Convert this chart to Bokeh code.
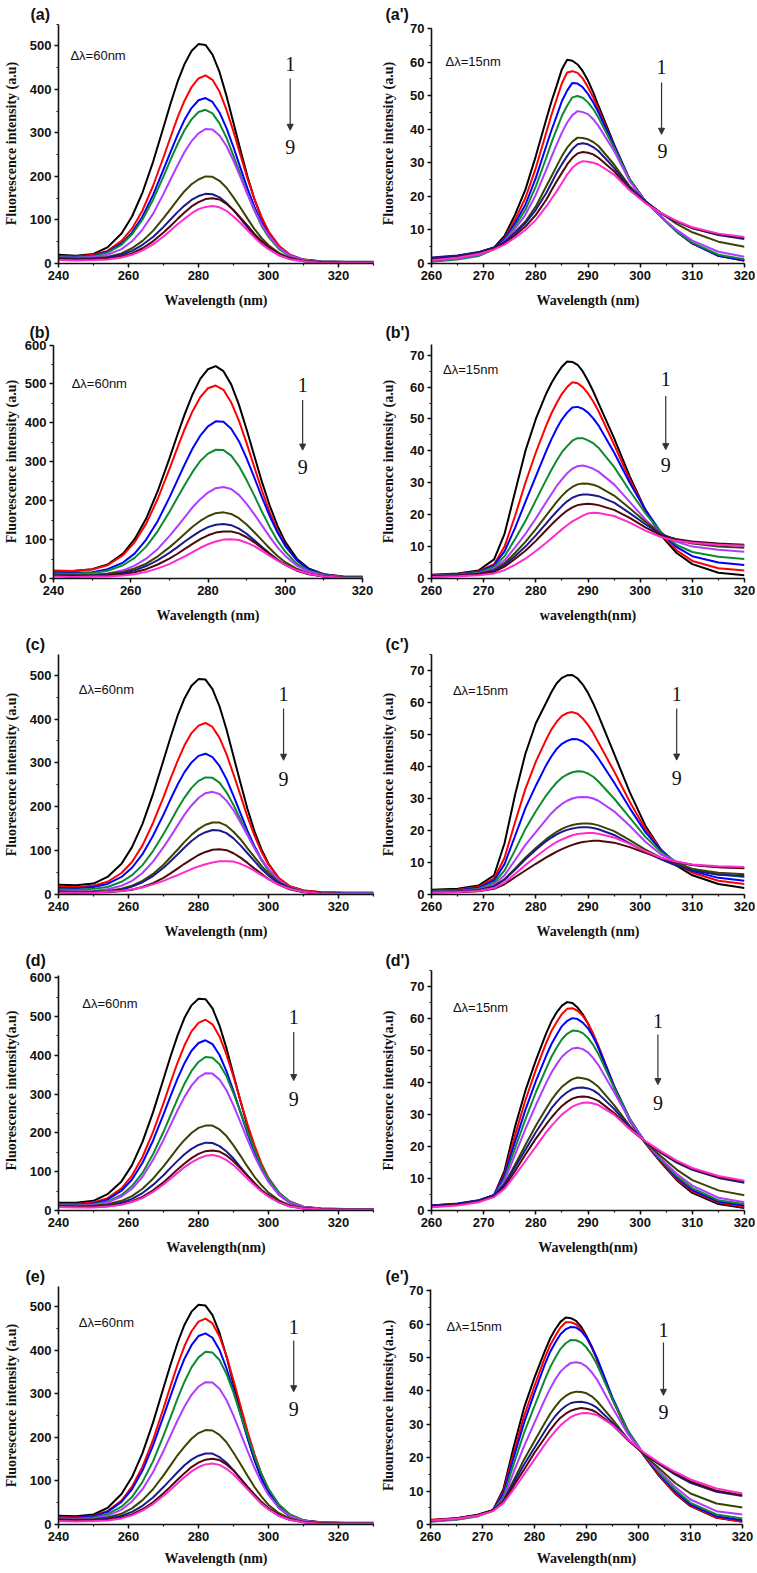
from bokeh.plotting import figure
from bokeh.layouts import column, row
from bokeh.models import Label, Arrow, NormalHead, SingleIntervalTicker, Range1d
from bokeh.embed import file_html
from bokeh.resources import INLINE

# ---------------- data ----------------
WL60 = [240, 245, 250, 254, 258, 261, 264, 267, 270, 272, 274, 276, 278, 280, 282, 284,
        286, 288, 290, 292, 294, 296, 298, 300, 303, 306, 310, 315, 322, 330]
WL15 = [260, 265, 269, 272, 274, 276, 278, 280, 282, 283, 284, 285, 286, 287, 288, 289,
        290, 291, 292, 295, 298, 301, 304, 307, 310, 315, 320]

SPEC_A = [
    [20, 18, 22, 37, 69, 108, 163, 233, 313, 367, 417, 458, 488, 504, 502, 480, 440, 385, 323, 260, 200, 147, 105, 71, 38, 19, 9, 5, 4, 4],
    [17, 16, 20, 29, 52, 80, 122, 178, 244, 290, 335, 374, 405, 425, 432, 422, 395, 353, 303, 249, 195, 148, 107, 74, 41, 21, 9, 4, 3, 3],
    [16, 15, 18, 27, 46, 71, 108, 157, 216, 256, 295, 330, 357, 375, 380, 371, 347, 311, 267, 219, 172, 130, 94, 65, 36, 19, 8, 4, 3, 3],
    [15, 14, 17, 25, 43, 67, 101, 146, 200, 238, 274, 306, 331, 348, 353, 345, 322, 289, 247, 204, 160, 121, 87, 61, 33, 17, 8, 4, 3, 3],
    [14, 13, 15, 20, 33, 51, 78, 114, 160, 193, 225, 256, 281, 299, 309, 308, 294, 270, 236, 198, 159, 123, 90, 65, 36, 19, 8, 4, 3, 3],
    [12, 11, 12, 15, 23, 35, 52, 75, 104, 125, 146, 166, 182, 193, 200, 199, 190, 174, 152, 128, 103, 79, 59, 42, 24, 13, 6, 3, 2, 2],
    [12, 11, 11, 14, 20, 29, 43, 61, 84, 101, 118, 133, 146, 155, 160, 159, 152, 139, 122, 103, 83, 64, 47, 34, 19, 11, 5, 3, 2, 2],
    [10, 9, 9, 11, 16, 23, 35, 51, 71, 86, 102, 117, 131, 141, 148, 150, 147, 137, 123, 105, 87, 68, 52, 38, 22, 12, 6, 3, 2, 2],
    [8, 7, 8, 9, 14, 20, 30, 44, 62, 76, 90, 103, 115, 125, 130, 132, 129, 121, 108, 93, 76, 60, 45, 33, 19, 10, 5, 2, 2, 2],
]
SPEC_B = [
    [20, 19, 24, 36, 64, 101, 154, 225, 308, 367, 423, 473, 513, 538, 546, 533, 499, 447, 383, 315, 247, 187, 135, 94, 51, 26, 11, 5, 4, 4],
    [20, 19, 23, 34, 60, 93, 141, 205, 281, 334, 385, 430, 466, 489, 496, 485, 453, 406, 348, 286, 225, 170, 123, 85, 47, 24, 10, 5, 4, 4],
    [15, 14, 16, 24, 41, 64, 100, 148, 208, 251, 294, 334, 367, 391, 404, 403, 385, 353, 309, 259, 208, 160, 118, 84, 47, 24, 10, 4, 3, 3],
    [13, 12, 14, 20, 34, 53, 82, 122, 171, 206, 241, 274, 302, 321, 331, 330, 316, 289, 253, 213, 171, 132, 97, 69, 38, 20, 9, 4, 3, 3],
    [10, 9, 10, 13, 21, 33, 51, 76, 109, 133, 158, 183, 204, 221, 232, 235, 230, 215, 192, 165, 136, 107, 80, 58, 33, 18, 8, 3, 2, 2],
    [10, 9, 9, 12, 17, 26, 38, 57, 80, 97, 115, 133, 148, 160, 168, 170, 166, 155, 139, 119, 98, 77, 58, 42, 25, 13, 6, 3, 2, 2],
    [8, 7, 8, 9, 14, 21, 32, 47, 66, 80, 95, 109, 122, 132, 138, 140, 137, 128, 115, 98, 81, 64, 48, 35, 20, 11, 5, 2, 2, 2],
    [7, 6, 6, 8, 11, 16, 24, 36, 51, 63, 76, 89, 101, 111, 118, 121, 121, 116, 106, 93, 78, 63, 48, 36, 21, 12, 5, 2, 1, 1],
    [5, 4, 5, 5, 8, 11, 17, 26, 37, 47, 57, 68, 79, 88, 95, 100, 101, 99, 92, 83, 71, 58, 46, 35, 21, 12, 5, 2, 1, 1],
]
SPEC_C = [
    [22, 21, 25, 40, 70, 108, 161, 229, 306, 358, 407, 447, 476, 491, 490, 468, 429, 376, 315, 254, 195, 144, 103, 70, 37, 19, 9, 5, 4, 4],
    [18, 17, 20, 29, 49, 74, 112, 163, 222, 264, 304, 340, 368, 385, 391, 382, 357, 320, 274, 226, 177, 134, 97, 68, 37, 19, 9, 5, 4, 4],
    [15, 14, 17, 24, 40, 61, 92, 134, 182, 217, 250, 279, 301, 316, 321, 313, 293, 263, 225, 185, 145, 110, 80, 55, 31, 16, 7, 4, 3, 3],
    [12, 11, 13, 17, 29, 44, 67, 99, 138, 166, 195, 221, 243, 259, 267, 266, 255, 233, 204, 171, 138, 106, 78, 56, 31, 16, 7, 3, 2, 2],
    [8, 7, 8, 12, 20, 31, 49, 75, 108, 132, 157, 182, 203, 220, 231, 234, 229, 214, 192, 164, 135, 106, 80, 58, 33, 17, 7, 3, 2, 2],
    [7, 6, 7, 8, 13, 20, 31, 47, 68, 85, 102, 120, 136, 149, 159, 164, 164, 157, 143, 126, 105, 85, 65, 48, 28, 16, 6, 3, 1, 1],
    [6, 5, 6, 7, 11, 18, 28, 42, 61, 76, 91, 107, 122, 134, 142, 147, 146, 140, 128, 112, 94, 76, 58, 43, 25, 14, 6, 2, 1, 1],
    [5, 4, 5, 5, 8, 11, 17, 26, 38, 48, 59, 70, 80, 90, 97, 102, 103, 101, 94, 84, 72, 59, 47, 35, 22, 12, 5, 2, 1, 1],
    [4, 4, 4, 6, 8, 12, 16, 23, 31, 38, 44, 51, 58, 64, 69, 73, 76, 76, 75, 70, 63, 54, 44, 35, 22, 13, 6, 2, 1, 1],
]
SPEC_D = [
    [20, 20, 25, 42, 75, 117, 177, 253, 339, 397, 451, 497, 529, 546, 545, 521, 477, 418, 350, 282, 217, 160, 114, 77, 41, 21, 9, 5, 4, 4],
    [17, 16, 21, 32, 57, 90, 138, 202, 277, 330, 381, 426, 462, 484, 492, 480, 449, 402, 345, 283, 222, 168, 121, 84, 46, 23, 10, 5, 3, 3],
    [15, 14, 18, 28, 51, 80, 123, 180, 248, 295, 340, 380, 412, 432, 439, 429, 401, 359, 308, 253, 199, 150, 108, 75, 41, 21, 9, 4, 3, 3],
    [14, 13, 16, 23, 40, 63, 97, 145, 203, 245, 288, 327, 360, 383, 396, 394, 377, 346, 302, 254, 204, 157, 115, 82, 46, 24, 10, 4, 3, 3],
    [13, 12, 14, 21, 36, 56, 87, 130, 182, 220, 258, 293, 322, 343, 354, 353, 338, 310, 271, 227, 183, 141, 104, 74, 41, 21, 9, 4, 3, 3],
    [12, 11, 12, 16, 25, 37, 56, 82, 114, 137, 161, 182, 200, 213, 219, 219, 209, 192, 168, 141, 113, 87, 65, 46, 26, 14, 6, 3, 2, 2],
    [10, 9, 10, 13, 20, 30, 45, 66, 91, 110, 128, 145, 159, 169, 175, 174, 166, 152, 134, 112, 90, 70, 51, 37, 21, 11, 5, 3, 2, 2],
    [10, 9, 9, 11, 16, 24, 35, 52, 73, 89, 106, 121, 135, 146, 153, 155, 152, 142, 127, 109, 90, 71, 53, 39, 23, 12, 6, 3, 2, 2],
    [9, 8, 8, 10, 15, 22, 32, 48, 67, 82, 97, 112, 124, 134, 141, 143, 139, 130, 117, 100, 82, 65, 49, 36, 21, 11, 5, 3, 2, 2],
]
SPEC_E = [
    [20, 19, 23, 38, 70, 109, 164, 234, 314, 367, 417, 459, 489, 505, 503, 481, 440, 386, 323, 261, 200, 148, 105, 71, 38, 19, 9, 5, 4, 4],
    [17, 16, 20, 31, 55, 87, 133, 194, 267, 318, 367, 410, 444, 466, 473, 462, 432, 387, 331, 273, 214, 162, 116, 81, 44, 23, 9, 5, 3, 3],
    [16, 15, 19, 29, 52, 81, 124, 181, 249, 295, 341, 381, 412, 433, 439, 429, 401, 359, 308, 253, 199, 150, 108, 75, 41, 21, 9, 4, 3, 3],
    [15, 14, 16, 24, 41, 63, 98, 145, 204, 246, 289, 328, 361, 384, 397, 395, 378, 346, 303, 254, 205, 157, 116, 82, 46, 24, 10, 4, 3, 3],
    [13, 12, 14, 20, 34, 53, 81, 120, 169, 204, 239, 271, 298, 317, 327, 326, 312, 286, 250, 210, 169, 130, 96, 68, 38, 20, 8, 4, 3, 3],
    [12, 11, 12, 16, 25, 37, 56, 81, 113, 136, 159, 179, 197, 210, 217, 216, 206, 189, 165, 139, 112, 86, 64, 45, 26, 14, 6, 3, 2, 2],
    [11, 10, 11, 13, 20, 29, 43, 62, 86, 103, 120, 136, 149, 158, 163, 163, 155, 142, 125, 105, 84, 65, 48, 35, 20, 11, 5, 3, 2, 2],
    [10, 9, 9, 11, 16, 23, 35, 51, 72, 87, 103, 118, 132, 142, 149, 151, 148, 138, 124, 106, 87, 69, 52, 38, 22, 12, 6, 3, 2, 2],
    [8, 7, 8, 9, 14, 21, 32, 47, 66, 80, 95, 109, 122, 132, 138, 140, 137, 128, 115, 98, 81, 64, 48, 35, 20, 11, 5, 2, 2, 2],
]

SPEC_AP = [
    [1.6, 2.3, 3.3, 4.8, 8.2, 14.5, 22, 32, 43, 48.3, 53, 57.9, 60.7, 60.4, 59.3, 57.3, 54.5, 51, 47, 35.5, 25, 18.5, 14, 9.5, 6, 2.3, 0.8],
    [1.0, 1.8, 2.8, 4.5, 7.5, 13, 19.5, 28.5, 39, 44.3, 49, 53.7, 56.9, 57.3, 56.8, 55.1, 52.5, 49.5, 46, 35, 25, 18.5, 14, 9.5, 6, 2.4, 1.0],
    [1.5, 2.2, 3.2, 4.6, 7.2, 12, 17.5, 25.5, 35, 39.7, 44, 48.4, 51.5, 53.8, 53.6, 52.5, 50.5, 48, 45, 35, 25, 18.5, 14, 9.5, 6, 2.3, 1.0],
    [0.5, 1.2, 2.2, 4.2, 6.8, 11.1, 16, 23, 31.5, 36, 40, 44, 47, 49.5, 49.9, 49.4, 48, 46, 43.5, 34.5, 25, 18.5, 14, 9.5, 6.2, 2.6, 1.3],
    [0.8, 1.5, 2.6, 4.4, 6.6, 10.3, 14.5, 20.5, 28, 31.8, 35.5, 39, 42, 44.2, 45.4, 45.1, 44.5, 43, 41, 33.5, 24.5, 18.5, 14, 10, 6.8, 3.5, 2.0],
    [1.0, 1.8, 3.0, 4.6, 6.3, 9.3, 12.5, 17, 23, 26, 29, 32, 34.5, 36.3, 37.5, 37.4, 37, 36.2, 35, 29.5, 23, 18.5, 15, 11.8, 9.3, 6.5, 5.0],
    [1.8, 2.4, 3.4, 4.8, 6.4, 9.1, 12, 16, 21, 24, 27, 29.6, 32, 34.1, 35.5, 35.8, 35.5, 34.7, 33.5, 28.5, 22.5, 18.5, 15, 12.5, 10.5, 8.5, 7.3],
    [1.2, 1.9, 3.0, 4.5, 6, 8.4, 11, 14.5, 19, 21.8, 24.5, 27, 29.5, 31.5, 32.8, 33.2, 33, 32.5, 31.5, 27.5, 22, 18.2, 15, 12.5, 10.6, 8.7, 7.6],
    [1.0, 1.7, 2.8, 4.2, 5.6, 7.7, 10, 13, 17, 19.3, 21.5, 24, 26.5, 28.5, 29.8, 30.5, 30.3, 30, 29.5, 26.5, 21.8, 18, 15, 12.7, 10.8, 8.9, 7.9],
]
SPEC_BP = [
    [1.2, 1.6, 2.5, 6, 14, 27, 40, 50, 58, 61.3, 64, 66.4, 68, 67.9, 67, 64.9, 62, 58.7, 55, 44, 32, 21.5, 13.5, 8, 4.5, 1.8, 1.0],
    [1.0, 1.4, 2.2, 4.5, 10, 19.5, 30, 39.5, 48, 51.8, 55, 57.9, 60, 61.5, 61.2, 60, 58, 55.5, 52.5, 42, 31, 21.5, 14, 8.8, 5.5, 3.2, 2.5],
    [0.9, 1.3, 2.0, 4.2, 8.5, 15.8, 24, 32, 40, 43.7, 47, 49.9, 52, 53.6, 53.8, 53.2, 52, 50.2, 48, 39.5, 30, 21.5, 14.5, 9.8, 7, 5, 4.2],
    [0.8, 1.2, 1.8, 3.6, 7, 12.3, 18, 24.5, 31, 34.1, 37, 39.6, 41.5, 43.2, 44, 44, 43.3, 42.4, 41, 35, 27.5, 20.5, 14.5, 10.5, 8.3, 6.8, 6.1],
    [0.8, 1.1, 1.6, 3.1, 5.7, 9.7, 14, 18.8, 24, 26.5, 29, 31.1, 33, 34.4, 35.2, 35.4, 35, 34.4, 33.5, 29.5, 24, 18.5, 14, 11.5, 10, 9, 8.4],
    [0.8, 1.1, 1.5, 2.7, 4.8, 8, 11.5, 15.5, 19.8, 21.9, 24, 25.9, 27.5, 28.7, 29.5, 29.8, 29.7, 29.4, 28.8, 26, 22, 17.8, 14, 12, 11, 10, 9.6],
    [0.7, 1.0, 1.4, 2.4, 4.2, 7, 10, 13.5, 17.3, 19.2, 21, 22.7, 24.2, 25.3, 26, 26.3, 26.3, 26.1, 25.8, 23.8, 20.5, 17, 13.8, 12.2, 11.4, 10.7, 10.3],
    [0.6, 0.9, 1.3, 2.1, 3.7, 6.1, 8.7, 11.8, 15.2, 16.9, 18.5, 20, 21.3, 22.3, 23, 23.3, 23.4, 23.3, 23, 21.5, 19, 16, 13.5, 12.3, 11.6, 11, 10.6],
    [0.5, 0.7, 1.0, 1.6, 2.6, 4.3, 6.2, 8.6, 11.2, 12.6, 14, 15.4, 16.7, 17.9, 18.8, 19.7, 20.4, 20.6, 20.5, 19.6, 17.5, 15, 13, 11.8, 11.2, 10.6, 10.3],
]
SPEC_CP = [
    [1.5, 1.8, 2.8, 6, 16, 31, 44, 53.5, 60, 63.3, 66, 67.7, 68.5, 68.6, 67.5, 65.6, 63, 59.7, 56, 44, 32, 21.5, 14, 9, 6, 3.3, 2.0],
    [1.2, 1.5, 2.4, 5, 11.5, 22.5, 33, 41.5, 48.5, 51.6, 54, 55.8, 56.7, 57, 56.5, 55, 53, 50.5, 47.5, 38.5, 29, 20.5, 14, 9.5, 6.8, 4.3, 3.3],
    [1.0, 1.3, 2.1, 4.4, 9.5, 18.2, 27, 34, 40.5, 43.2, 45.5, 47.1, 48, 48.6, 48.5, 47.8, 46.5, 44.7, 42.5, 35, 27, 19.5, 13.8, 9.8, 7.3, 5.2, 4.3],
    [0.9, 1.2, 1.8, 3.7, 7.5, 13.8, 20.5, 26, 31, 33.1, 35, 36.5, 37.5, 38.2, 38.5, 38.4, 37.8, 36.8, 35.3, 30, 24, 18, 13.3, 10, 8, 6.3, 5.5],
    [0.8, 1.0, 1.5, 3.1, 6, 10.7, 15.5, 19.5, 23.5, 25.4, 27, 28.3, 29.3, 30, 30.4, 30.5, 30.4, 30, 29.3, 26, 21.5, 16.5, 12.5, 10.3, 9.2, 8.6, 8.3],
    [0.8, 1.0, 1.4, 2.6, 4.8, 8.1, 11.5, 14.5, 17.3, 18.5, 19.6, 20.5, 21.2, 21.7, 22, 22.2, 22.2, 22, 21.6, 19.8, 17, 14, 11.5, 9.5, 8, 6.8, 6.3],
    [0.7, 0.9, 1.3, 2.5, 4.6, 7.7, 11, 14, 16.7, 17.8, 18.8, 19.6, 20.2, 20.6, 20.9, 21, 21, 20.8, 20.4, 18.6, 16, 13.3, 11, 9, 7.5, 6.2, 5.8],
    [0.6, 0.7, 1.0, 1.8, 3.2, 5.4, 7.5, 9.6, 11.6, 12.5, 13.4, 14.2, 14.9, 15.5, 16, 16.4, 16.6, 16.8, 16.8, 16.2, 14.8, 13, 11.3, 10, 9.2, 8.5, 8.2],
    [0.6, 0.8, 1.1, 2.0, 3.7, 6.4, 9.2, 11.8, 14.3, 15.4, 16.4, 17.2, 17.9, 18.5, 18.9, 19.1, 19.2, 19.2, 19, 17.8, 15.8, 13.5, 11.5, 10.2, 9.4, 8.8, 8.6],
]
SPEC_DP = [
    [1.5, 2.0, 3.0, 4.8, 12.5, 26.1, 37.5, 47, 55.5, 59.2, 62, 64.1, 65.2, 64.9, 63.5, 61.4, 58.5, 55, 51, 38.5, 28, 21, 15, 9.5, 5.5, 2.0, 0.8],
    [1.3, 1.9, 2.9, 4.7, 11.5, 23.5, 34.5, 44, 52.5, 56.2, 59, 61.5, 63.1, 63.3, 62.5, 60.9, 58.5, 55.3, 51.5, 39, 28.5, 21.2, 15.2, 9.8, 6, 2.5, 1.2],
    [1.6, 2.1, 3.1, 4.9, 11, 21.4, 31.5, 40.5, 48.5, 52.1, 55, 57.7, 59.3, 60.2, 59.9, 58.8, 57, 54.3, 51, 39, 28.7, 21.3, 15.5, 10.3, 6.4, 2.8, 1.6],
    [1.2, 1.8, 2.8, 4.6, 10, 19.4, 28.5, 37, 44.5, 48.1, 51, 53.6, 55.3, 56.3, 56.2, 55.5, 54, 51.8, 49, 38.5, 28.7, 21.3, 15.8, 10.8, 7, 3.2, 2.0],
    [1.2, 1.8, 2.8, 4.5, 9.2, 17.4, 25.5, 33, 40, 43.2, 45.8, 48.1, 49.6, 50.7, 50.9, 50.5, 49.5, 47.7, 45.5, 37, 28.3, 21.3, 16.2, 11.5, 7.8, 4, 2.6],
    [1.3, 1.9, 2.9, 4.5, 8.2, 14.3, 20.5, 26.5, 32, 34.6, 36.8, 38.7, 40, 41.1, 41.6, 41.4, 41, 40, 38.7, 33, 26.5, 21.3, 17, 12.8, 9.5, 6.3, 4.8],
    [1.6, 2.2, 3.2, 4.8, 8.2, 13.5, 19, 24.5, 29.5, 32, 34, 35.7, 37, 38, 38.4, 38.5, 38.2, 37.6, 36.5, 31.8, 26, 21.5, 18, 15, 12.7, 10.2, 8.7],
    [1.3, 1.8, 2.8, 4.4, 7.5, 12.3, 17.5, 22.5, 27, 29.1, 31, 32.7, 34, 35, 35.5, 35.7, 35.5, 35, 34.3, 30.5, 25.5, 21.5, 18.2, 15.3, 13, 10.5, 9.1],
    [1.0, 1.6, 2.6, 4.2, 6.8, 11, 15.5, 20, 24.5, 26.5, 28.3, 30, 31.3, 32.5, 33.2, 33.7, 33.8, 33.5, 33, 30, 25.5, 21.7, 18.5, 15.6, 13.3, 10.8, 9.3],
]
SPEC_EP = [
    [1.3, 1.8, 2.7, 4.3, 10.5, 23.3, 35, 44, 52, 55.7, 58.5, 60.7, 62, 61.8, 61, 59.2, 56.5, 53.3, 49.5, 37.5, 27.5, 20.7, 14.5, 9.3, 5.5, 2.0, 0.8],
    [1.4, 1.9, 2.8, 4.3, 9.8, 21.5, 32.5, 41.5, 50, 53.7, 56.5, 59, 60.6, 60.6, 60, 58.4, 56, 53, 49.5, 37.5, 27.7, 20.8, 14.8, 9.5, 5.7, 2.1, 0.8],
    [1.0, 1.6, 2.6, 4.2, 9.2, 20.1, 30.5, 39.5, 48, 51.7, 54.5, 57, 58.5, 59.2, 59, 57.9, 56, 53.3, 50, 38, 28, 21, 15.2, 10, 6, 2.5, 1.3],
    [0.8, 1.4, 2.4, 4.1, 8.3, 18.1, 27.5, 35.5, 43.5, 47.1, 50, 52.6, 54.3, 55.3, 55.2, 54.5, 53, 50.8, 48, 37.5, 28, 21.2, 15.5, 10.5, 6.5, 3, 1.8],
    [1.0, 1.6, 2.6, 4.2, 7.6, 15.7, 23.5, 30.5, 37.5, 40.7, 43.5, 45.8, 47.3, 48.4, 48.6, 48.3, 47.3, 45.6, 43.5, 35, 27, 21.2, 16, 11.3, 7.5, 4, 3.0],
    [1.1, 1.7, 2.7, 4.2, 7.1, 13.3, 19.5, 25, 30.5, 33.1, 35.3, 37.2, 38.5, 39.4, 39.8, 39.7, 39.3, 38.4, 37, 31.5, 25.5, 21, 16.8, 12.5, 9.3, 6.3, 5.1],
    [1.2, 1.8, 2.8, 4.3, 6.8, 12.5, 18, 23, 28, 30.4, 32.5, 34.2, 35.5, 36.4, 36.7, 36.8, 36.5, 35.9, 35, 30.5, 25.5, 21.3, 18, 15, 12.5, 9.8, 8.5],
    [1.3, 1.9, 2.9, 4.3, 6.5, 11.6, 16.5, 21.5, 26, 28.3, 30.3, 32, 33.2, 34.1, 34.6, 34.9, 34.7, 34.3, 33.5, 29.8, 25.2, 21.3, 18.2, 15.3, 12.9, 10.1, 8.8],
    [1.2, 1.7, 2.6, 4.0, 6.4, 10.5, 15, 19.5, 24, 26.1, 28, 29.7, 31, 32.2, 32.9, 33.3, 33.4, 33.2, 32.8, 29.8, 25.5, 21.6, 18.5, 15.8, 13.5, 10.8, 9.3],
]

PANEL_LABELS = ["(a)", "(a')", "(b)", "(b')", "(c)", "(c')", "(d)", "(d')", "(e)", "(e')"]
X_LABELS = ["Wavelength (nm)", "Wavelength (nm)", "Wavelength (nm)", "wavelength(nm)",
            "Wavelength (nm)", "Wavelength (nm)", "Wavelength(nm)", "Wavelength(nm)",
            "Wavelength (nm)", "Wavelength(nm)"]
Y_LABELS = ["Fluorescence intensity (a.u)", "Fluorescence intensity (a.u)",
            "Fluorescence intensity (a.u)", "Fluorescence intensity (a.u)",
            "Fluorescence intensity (a.u)", "Fluorescence intensity (a.u)",
            "Fluorescence intensity(a.u)", "Fluorescence intensity(a.u)",
            "Fluorescence intensity (a.u)", "Fluourescence intensity(a.u.)"]
DELTA_LABELS = ["Δλ=60nm", "Δλ=15nm"] * 5

SERIES_COLORS = ["#000000", "#FF0000", "#0000FF", "#0E8A2E", "#B03CFF",
                 "#3B4300", "#1A1A8C", "#4D0A0A", "#FF2BD0"]

ALL_SPECS = [SPEC_A, SPEC_AP, SPEC_B, SPEC_BP, SPEC_C, SPEC_CP, SPEC_D, SPEC_DP, SPEC_E, SPEC_EP]

# ---------------- layout / styling ----------------
# Plots in one row share frame top/bottom, so the visible y-axis extent is set with `yb`.
# ys: y-axis label standoff, ts: title standoff, to: title horizontal offset, xs: x label standoff
FRAMES = [
    dict(w=378, h=315, bl=58, br=5, bt=23, bb=52, xr=(240, 330), ye=551.3, yb=550, xi=20, yi=100, ys=8, ts=2, to=-28, xs=10),
    dict(w=379, h=315, bl=53, br=13, bt=23, bb=52, xr=(260, 320), ye=71.5, yb=70, xi=10, yi=10, ys=11, ts=2, to=-46, xs=10),
    dict(w=378, h=315, bl=52, br=16, bt=29, bb=52, xr=(240, 320), ye=601.5, yb=600, xi=20, yi=100, ys=3, ts=8, to=-24, xs=10),
    dict(w=379, h=315, bl=53, br=13, bt=29, bb=52, xr=(260, 320), ye=73.35, yb=None, xi=10, yi=10, ys=11, ts=8, to=-46, xs=10),
    dict(w=378, h=316, bl=58, br=5, bt=24, bb=52, xr=(240, 330), ye=547.1, yb=None, xi=20, yi=100, ys=8, ts=3, to=-33, xs=10),
    dict(w=379, h=316, bl=53, br=13, bt=24, bb=52, xr=(260, 320), ye=75.0, yb=None, xi=10, yi=10, ys=11, ts=3, to=-46, xs=10),
    dict(w=378, h=315, bl=58, br=5, bt=24, bb=51, xr=(240, 330), ye=618.9, yb=606, xi=20, yi=100, ys=8, ts=3, to=-33, xs=10),
    dict(w=379, h=315, bl=53, br=13, bt=24, bb=51, xr=(260, 320), ye=75.1, yb=None, xi=10, yi=10, ys=11, ts=3, to=-46, xs=10),
    dict(w=378, h=312, bl=58, br=5, bt=25, bb=49, xr=(240, 330), ye=546.8, yb=None, xi=20, yi=100, ys=8, ts=4, to=-33, xs=7),
    dict(w=379, h=312, bl=52, br=15, bt=25, bb=49, xr=(260, 320), ye=71.3, yb=70.4, xi=10, yi=10, ys=10, ts=4, to=-45, xs=7),
]
# annotation positions in data units: delta label, "1", "9", arrow
ANNOT = [
    dict(dl=(243.4, 478), one=(306.2, 459), nine=(306.2, 268), arr=(306.2, 425, 306.2, 306)),
    dict(dl=(262.7, 60.3), one=(304.1, 58.4), nine=(304.3, 33.5), arr=(304.1, 53.9, 304.1, 38.5)),
    dict(dl=(244.7, 501), one=(304.5, 497), nine=(304.5, 287), arr=(304.5, 459, 304.5, 330)),
    dict(dl=(262.2, 65.5), one=(304.9, 62.4), nine=(304.9, 35.7), arr=(304.9, 57.2, 304.9, 40.4)),
    dict(dl=(245.8, 468), one=(304.3, 458), nine=(304.3, 264), arr=(304.3, 424, 304.3, 306)),
    dict(dl=(264.1, 63.8), one=(307.0, 62.8), nine=(307.0, 36.3), arr=(307.0, 58.1, 307.0, 42)),
    dict(dl=(246.8, 533), one=(307.2, 498), nine=(307.2, 288), arr=(307.2, 460, 307.2, 335)),
    dict(dl=(264.1, 63.4), one=(303.4, 59.3), nine=(303.4, 33.7), arr=(303.4, 55.1, 303.4, 39.4)),
    dict(dl=(245.8, 465), one=(307.2, 454), nine=(307.2, 266), arr=(307.2, 423, 307.2, 305)),
    dict(dl=(263.1, 59.2), one=(304.8, 58.2), nine=(304.8, 33.7), arr=(304.8, 54.5, 304.8, 38.7)),
]

SANS = "Liberation Sans"
SERIF = "Liberation Serif"
INK = "#111111"


def make_panel(i):
    fr = FRAMES[i]
    an = ANNOT[i]
    xs = WL60 if i % 2 == 0 else WL15
    p = figure(width=fr["w"], height=fr["h"],
               x_range=Range1d(*fr["xr"]), y_range=Range1d(0, fr["ye"]),
               output_backend="svg", toolbar_location=None,
               min_border_left=fr["bl"], min_border_right=fr["br"],
               min_border_top=fr["bt"], min_border_bottom=fr["bb"])
    p.outline_line_color = None
    p.grid.visible = False
    p.background_fill_color = "white"
    p.border_fill_color = "white"

    # panel label as the plot title (drawn in the top border, left of the frame)
    p.title.text = PANEL_LABELS[i]
    p.title.align = "left"
    p.title.offset = fr["to"]
    p.title.standoff = fr["ts"]
    p.title.text_font = SANS
    p.title.text_font_style = "bold"
    p.title.text_font_size = "16px"
    p.title.text_color = INK

    for ys, col in zip(ALL_SPECS[i], SERIES_COLORS):
        p.line(xs, ys, line_color=col, line_width=2.0)

    p.xaxis.ticker = SingleIntervalTicker(interval=fr["xi"], num_minor_ticks=2)
    p.yaxis.ticker = SingleIntervalTicker(interval=fr["yi"], num_minor_ticks=2)
    if fr["yb"] is not None:
        p.yaxis.bounds = (0, fr["yb"])
    p.xaxis.axis_label = X_LABELS[i]
    p.yaxis.axis_label = Y_LABELS[i]
    for ax in (p.xaxis[0], p.yaxis[0]):
        ax.axis_line_width = 1.6
        ax.axis_line_color = INK
        ax.major_tick_line_width = 1.5
        ax.major_tick_line_color = INK
        ax.major_tick_in = 0
        ax.major_tick_out = 4
        ax.minor_tick_line_width = 1.2
        ax.minor_tick_line_color = INK
        ax.minor_tick_in = 0
        ax.minor_tick_out = 2
        ax.major_label_text_font = SANS
        ax.major_label_text_font_style = "bold"
        ax.major_label_text_font_size = "13px"
        ax.major_label_text_color = INK
        ax.major_label_standoff = 3
        ax.axis_label_text_font = SERIF
        ax.axis_label_text_font_style = "bold"
        ax.axis_label_text_font_size = "14px"
        ax.axis_label_text_color = INK
    p.xaxis.axis_label_standoff = fr["xs"]
    p.yaxis.axis_label_standoff = fr["ys"]

    p.add_layout(Label(x=an["dl"][0], y=an["dl"][1], text=DELTA_LABELS[i],
                       text_font=SANS, text_font_size="13px",
                       text_align="left", text_baseline="middle", text_color=INK))
    p.add_layout(Label(x=an["one"][0], y=an["one"][1], text="1",
                       text_font=SERIF, text_font_size="20px",
                       text_align="center", text_baseline="middle", text_color=INK))
    p.add_layout(Label(x=an["nine"][0], y=an["nine"][1], text="9",
                       text_font=SERIF, text_font_size="20px",
                       text_align="center", text_baseline="middle", text_color=INK))
    x0, y0, x1, y1 = an["arr"]
    p.add_layout(Arrow(end=NormalHead(size=6, fill_color="#333333", line_color="#333333"),
                       x_start=x0, y_start=y0, x_end=x1, y_end=y1,
                       line_color="#333333", line_width=1.2))
    return p


panels = [make_panel(i) for i in range(10)]
layout = column(
    row(panels[0], panels[1]),
    row(panels[2], panels[3]),
    row(panels[4], panels[5]),
    row(panels[6], panels[7]),
    row(panels[8], panels[9]),
)

open("out.html", "w").write(file_html(layout, INLINE))
